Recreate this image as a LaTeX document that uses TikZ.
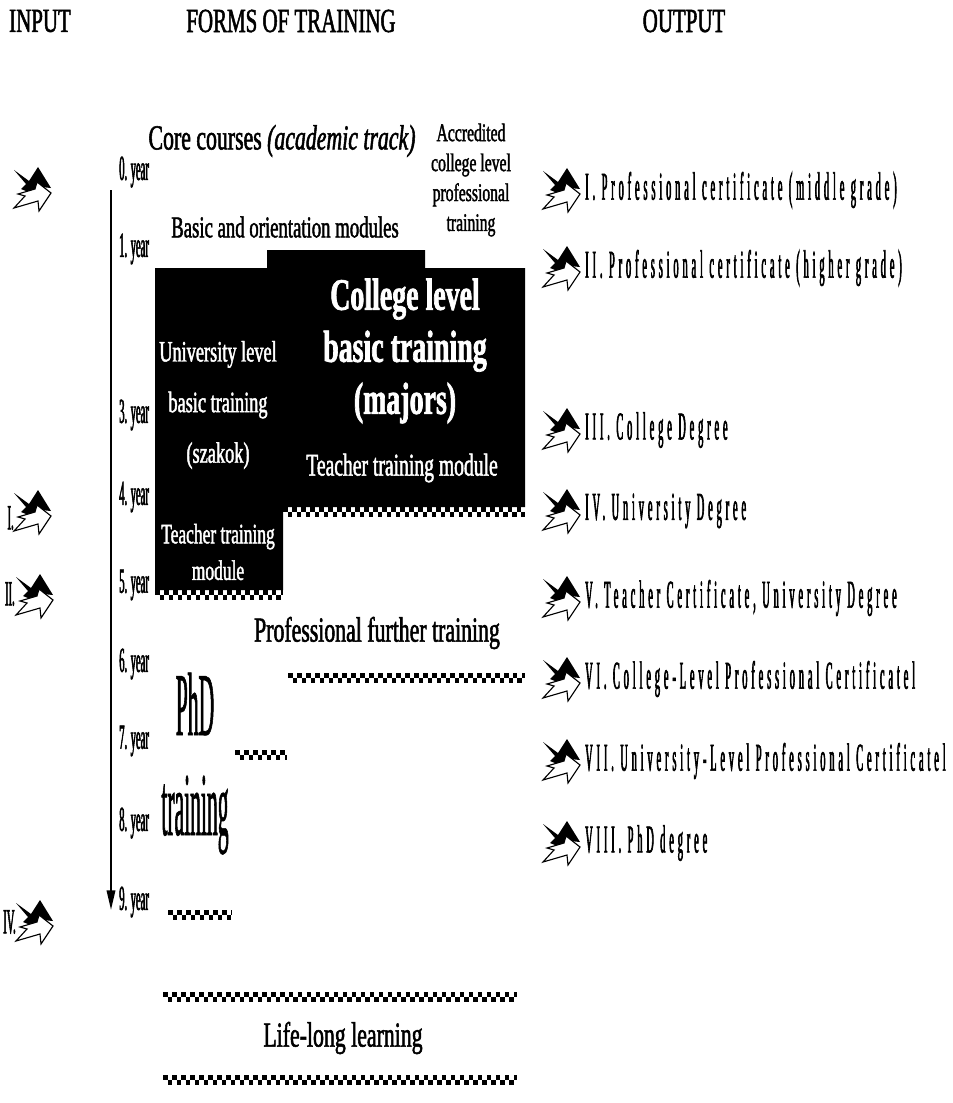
\documentclass[tikz,border=0pt]{standalone}
\usepackage{fontspec}
\setmainfont{Liberation Serif}
\newfontfamily\condf[FakeStretch=0.62,FakeBold=1.5]{Liberation Serif}
\newfontfamily\yearf[FakeStretch=0.3,FakeBold=1.5]{Liberation Serif}
\newfontfamily\phdf[FakeStretch=0.24,FakeBold=0.6]{Liberation Serif}
\newfontfamily\outf[FakeStretch=0.26,LetterSpace=10,FakeBold=1.5]{Liberation Serif}
\usetikzlibrary{arrows.meta}

\newcommand{\chkline}[3]{%
  \draw[chk] (#1,#3-2.7) -- (#2,#3-2.7);
  \draw[chk, dash phase=3.2pt] (#1,#3+2.7) -- (#2,#3+2.7);}

\begin{document}
\begin{tikzpicture}[x=0.025cm, y=-0.025cm,
  >={Triangle[width=6pt,length=14pt]},
  hd/.style={font={\condf\fontsize{24}{26}\selectfont}},
  yr/.style={anchor=west, inner sep=0pt, font={\yearf\fontsize{25}{27}\selectfont}},
  inl/.style={anchor=east, inner sep=0pt, font={\yearf\fontsize{25}{27}\selectfont}},
  lbl/.style={font={\condf\fontsize{25}{28}\selectfont}},
  lbls/.style={font={\condf\fontsize{21.5}{23}\selectfont}},
  acc/.style={align=center, font={\condf\fontsize{18}{21.3}\selectfont}},
  wt/.style={text=white, align=center, font={\condf\fontsize{21}{36}\selectfont}},
  wtb/.style={text=white, align=center, font={\condf\bfseries\fontsize{32}{37}\selectfont}},
  wtm/.style={text=white, align=center, font={\condf\fontsize{22.5}{26}\selectfont}},
  wts/.style={text=white, align=center, font={\condf\fontsize{20}{26}\selectfont}},
  phd/.style={inner sep=0pt, font={\phdf\fontsize{64}{70}\selectfont}},
  outt/.style={anchor=west, inner sep=0pt, font={\outf\fontsize{28}{30}\selectfont}},
  chk/.style={line width=3.8pt, dash pattern=on 3.2pt off 3.2pt},
  axis/.style={->, line width=1.5pt},
  zig/.pic={
    \fill[black] (1,3) -- (16,14) -- (25,0) -- (38,21) -- (28,20) -- (18,26)
      -- (8,22) -- (13,17) -- cycle;
    \filldraw[fill=white, draw=black, line width=0.8pt] (1,41) -- (12,29)
      -- (5,27) -- (22,22) -- (24,15) -- (38,26) -- (26,44) -- (25,34) -- cycle;
  },
]
\useasboundingbox (0,0) rectangle (952,1103);

\node[hd] (hin)   at (40,21)  {INPUT};
\node[hd] (hform) at (291,21) {FORMS OF TRAINING};
\node[hd] (hout)  at (684,21) {OUTPUT};

\coordinate (axtop) at (111,190);
\coordinate (axbot) at (111,910);
\draw[axis] (axtop) -- (axbot);

\node[yr] (y0) at (119,172) {0. year};
\node[yr] (y1) at (119,249) {1. year};
\node[yr] (y3) at (119,415) {3. year};
\node[yr] (y4) at (119,497) {4. year};
\node[yr] (y5) at (119,585) {5. year};
\node[yr] (y6) at (119,664) {6. year};
\node[yr] (y7) at (119,741) {7. year};
\node[yr] (y8) at (119,823) {8. year};
\node[yr] (y9) at (119,902) {9. year};

\node[lbl]  (core)  at (282,141) {Core courses \textit{(academic track)}};
\node[lbls] (basic) at (285,227) {Basic and orientation modules};
\node[acc]  (accr)  at (471,180) {Accredited\\college level\\professional\\training};

\fill[black] (155,268) -- (267,268) -- (267,250) -- (425,250) -- (425,268)
  -- (525,268) -- (525,507) -- (283,507) -- (283,590) -- (155,590) -- cycle;
\chkline{283}{525}{512}
\chkline{155}{283}{595}

\node[wtb] (coll)  at (405,351) {College level\\basic training\\(majors)};
\node[wt]  (univ)  at (218,405) {University level\\basic training\\(szakok)};
\node[wtm] (tcol)  at (402,468) {Teacher training module};
\node[wts] (tuni)  at (218,552) {Teacher training\\module};

\node[lbl] (pft) at (377,633) {Professional further training};
\chkline{288}{525}{678}
\node[phd] (phd)  at (195,704) {PhD};
\node[phd] (phdt) at (195,815) {training};
\chkline{235}{287}{755}
\chkline{168}{232}{915}

\chkline{163}{517}{997}
\node[lbl] (lll) at (343,1038) {Life-long learning};
\chkline{163}{517}{1080}

\pic at (13,167) {zig};
\pic at (13,490) {zig};
\node[inl] (in1) at (14,518) {I.};
\pic at (15,574) {zig};
\node[inl] (in2) at (15,594) {II.};
\pic at (15,900) {zig};
\node[inl] (in4) at (16,922) {IV.};

\pic at (542,168) {zig};
\node[outt] (o1) at (585,190) {I. Professional certificate (middle grade)};
\pic at (542,246) {zig};
\node[outt] (o2) at (585,268) {II. Professional certificate (higher grade)};
\pic at (542,408) {zig};
\node[outt] (o3) at (585,430) {III. College Degree};
\pic at (542,489) {zig};
\node[outt] (o4) at (585,511) {IV. University Degree};
\pic at (542,576) {zig};
\node[outt] (o5) at (585,598) {V. Teacher Certificate, University Degree};
\pic at (542,657) {zig};
\node[outt] (o6) at (585,679) {VI. College-Level Professional Certificatel};
\pic at (542,739) {zig};
\node[outt] (o7) at (585,761) {VII. University-Level Professional Certificatel};
\pic at (542,821) {zig};
\node[outt] (o8) at (585,843) {VIII. PhD degree};
\end{tikzpicture}
\end{document}
